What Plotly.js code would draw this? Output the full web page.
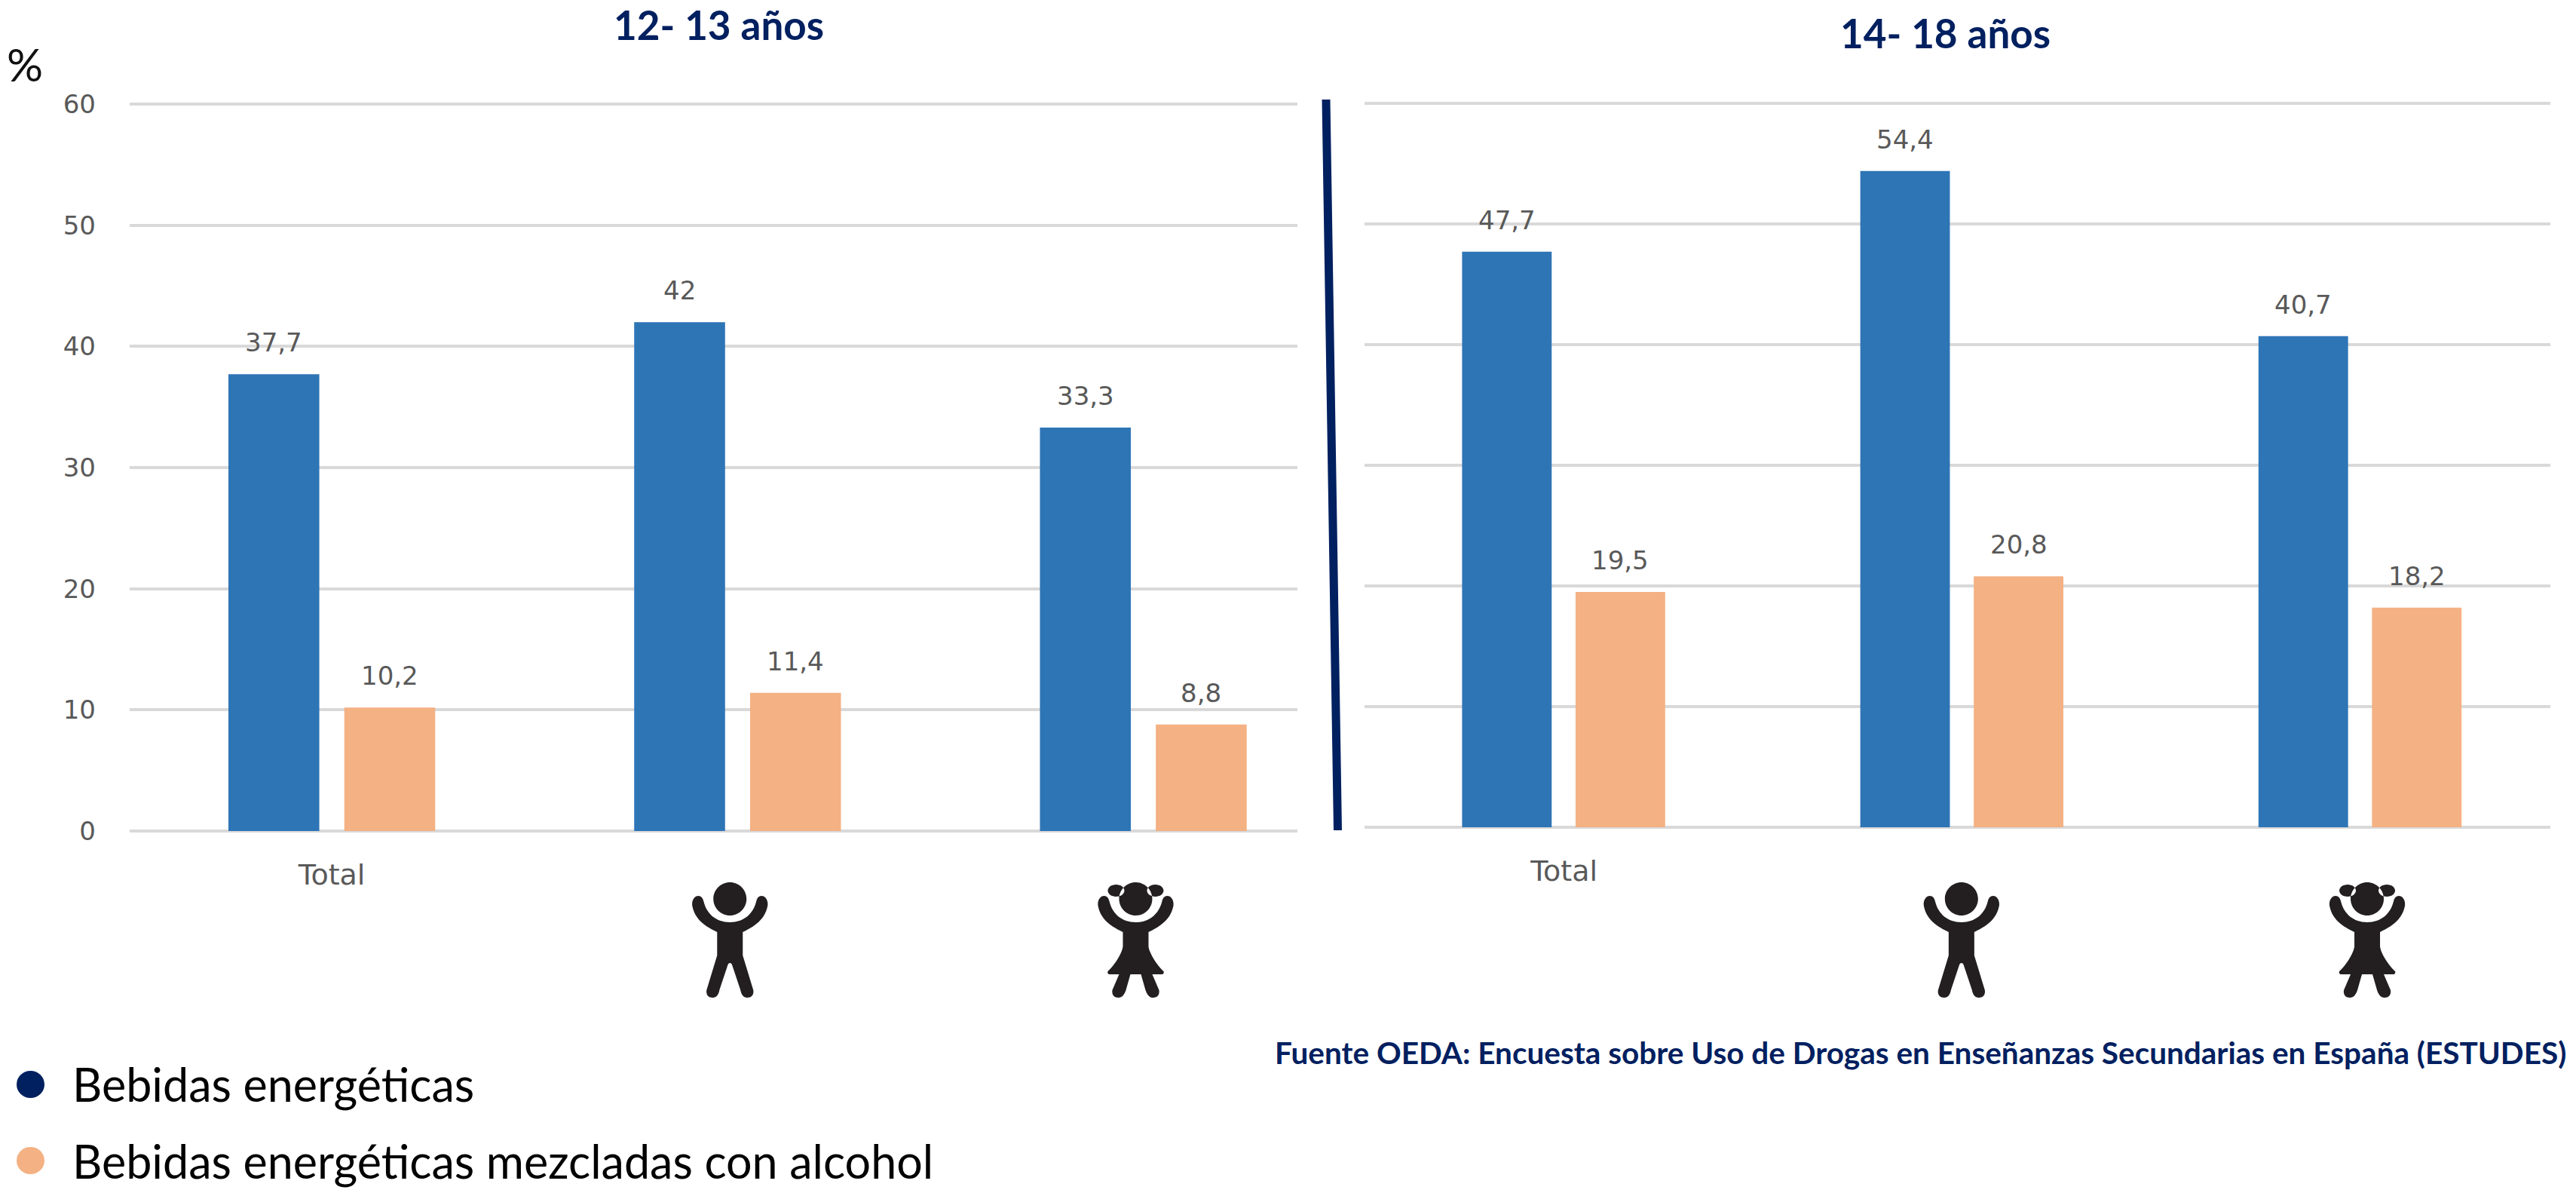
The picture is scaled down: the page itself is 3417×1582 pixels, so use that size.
<!DOCTYPE html>
<html><head><meta charset="utf-8">
<script src="https://cdn.plot.ly/plotly-3.0.1.min.js"></script>
<style>html,body{margin:0;padding:0;background:#fff}#c{width:3417px;height:1582px}</style>
</head><body><div id="c"></div>
<script>
const categories = ['Total', 'Chicos', 'Chicas'];
const tickLabels = ['Total', '', ''];
const energy1213 = [37.7, 42, 33.3];
const mixed1213 = [10.2, 11.4, 8.8];
const energy1418 = [47.7, 54.4, 40.7];
const mixed1418 = [19.5, 20.8, 18.2];
const panelTitles = ['12- 13 años', '14- 18 años'];
const seriesNames = ['Bebidas energéticas', 'Bebidas energéticas mezcladas con alcohol'];
const yTicks = [0, 10, 20, 30, 40, 50, 60];
const sourceNote = 'Fuente OEDA: Encuesta sobre Uso de Drogas en Enseñanzas Secundarias en España (ESTUDES)';

const W = 3417, H = 1582;
const BLUE = '#2E75B6', ORANGE = '#F4B183', NAVY = '#002060', GRID = '#D9D9D9', GREY = '#595959', ICON = '#231F20';
const px = v => v / W, py = v => 1 - v / H;
const LABEL_FONT = 'DejaVu Sans', HEAD_FONT = 'Lato, "Noto Sans", sans-serif';
const YMAX = 60.13; // a hair above 60 so that the top gridline is kept

const panels = [
  {x: 'x', y: 'y', dom: [172, 1721], top: 136, zero: 1102, range: [-0.498, 2.38], w: 0.224, blue: -0.2546, orange: 0.031,
   a: energy1213, b: mixed1213},
  {x: 'x2', y: 'y2', dom: [1810, 3383], top: 135, zero: 1097, range: [-0.501, 2.477], w: 0.225, blue: -0.256, orange: 0.029,
   a: energy1418, b: mixed1418}
];

const traces = [];
const annotations = [];
const fmt = v => String(v).replace('.', ',');
panels.forEach(p => {
  [[p.a, BLUE, p.blue, seriesNames[0]], [p.b, ORANGE, p.orange, seriesNames[1]]].forEach(([vals, col, off, name]) => {
    traces.push({type: 'bar', x: categories, y: vals, xaxis: p.x, yaxis: p.y, name, width: p.w, offset: off,
      marker: {color: col, line: {width: 0}}, showlegend: false, hoverinfo: 'x+y'});
    vals.forEach((v, i) => annotations.push({
      xref: p.x, yref: p.y, x: i + off + p.w / 2, y: v, text: fmt(v), showarrow: false,
      xanchor: 'center', yanchor: 'middle', yshift: 42,
      font: {family: LABEL_FONT, size: 34, color: GREY}
    }));
  });
});

function note(text, x, y, size, color, bold, anchor) {
  annotations.push({xref: 'paper', yref: 'paper', x: px(x), y: py(y), text: bold ? '<b>' + text + '</b>' : text,
    showarrow: false, xanchor: anchor || 'center', yanchor: 'middle',
    font: {family: HEAD_FONT, size, color}});
}
note(panelTitles[0], 953, 33, 53, NAVY, true);
note(panelTitles[1], 2580, 43, 53, NAVY, true);
note('%', 33, 85, 60, '#111111', false);
note(sourceNote, 1689, 1395, 40.5, NAVY, true, 'left');
note(seriesNames[0], 94, 1437, 61, '#000000', false, 'left');
note(seriesNames[1], 94, 1539, 61, '#000000', false, 'left');

const shapes = [];
// divider between the two panels
shapes.push({type: 'line', xref: 'paper', yref: 'paper', x0: px(1759), y0: py(132), x1: px(1774.5), y1: py(1101),
  line: {color: NAVY, width: 11}});
// legend dots
[[1438, NAVY], [1539, ORANGE]].forEach(([cy, col]) => shapes.push({type: 'circle', xref: 'paper', yref: 'paper',
  x0: px(22), x1: px(59), y0: py(cy - 18), y1: py(cy + 18), fillcolor: col, line: {width: 0}}));

// pictograms (pixel outlines: "dx dy", dy growing downward from the top of the head)
const ell = (cx, cy, rx, ry) => {
  const k = 0.5523;
  return `M ${cx - rx} ${cy} C ${cx - rx} ${cy - k * ry} ${cx - k * rx} ${cy - ry} ${cx} ${cy - ry} ` +
    `C ${cx + k * rx} ${cy - ry} ${cx + rx} ${cy - k * ry} ${cx + rx} ${cy} ` +
    `C ${cx + rx} ${cy + k * ry} ${cx + k * rx} ${cy + ry} ${cx} ${cy + ry} ` +
    `C ${cx - k * rx} ${cy + ry} ${cx - rx} ${cy + k * ry} ${cx - rx} ${cy} Z `;
};
const armsTop = 'M -42 18 C -47 18 -51 24 -50 31 C -47 46 -38 56 -17 66 ';
const armsEnd = 'C 38 56 47 46 50 31 C 51 24 47 18 42 18 C 38 18 36 21 35 25 C 31 42 18 53 0 53 C -18 53 -31 42 -35 25 C -36 21 -38 18 -42 18 Z ';
const boyPath = ell(0, 22, 22, 22) + armsTop +
  'L -17 97 L -31 143 C -32 150 -28 153 -23 153 C -18 153 -15 149 -14 143 L -3 110 C -2 106 2 106 3 110 ' +
  'L 14 143 C 15 149 18 153 23 153 C 28 153 32 150 31 143 L 17 97 L 17 66 ' + armsEnd;
const girlPath = ell(0, 22, 22, 22) + ell(-26, 11, 11, 8) + ell(26, 11, 11, 8) + armsTop +
  'L -17 85 C -18 95 -30 112 -37 118 C -38 121 -36 122 -34 122 L -22 122 L -31 143 C -32 150 -28 153 -23 153 C -18 153 -15 149 -13 143 L -7 122 ' +
  'L 7 122 L 13 143 C 15 149 18 153 23 153 C 28 153 32 150 31 143 L 22 122 L 34 122 C 36 122 38 121 37 118 C 30 112 18 95 17 85 L 17 66 ' + armsEnd;
const place = (path, dx) => path.replace(/(-?\d+(?:\.\d+)?) (-?\d+(?:\.\d+)?)/g, (m, a, b) => (+a + dx) + ' ' + (-b));
const iconTop = py(1170);
[['x', 1, boyPath, -10], ['x', 2, girlPath, -10], ['x2', 1, boyPath, -1], ['x2', 2, girlPath, 9]].forEach(([ax, idx, path, dx]) =>
  shapes.push({type: 'path', xref: ax, yref: 'paper', xsizemode: 'pixel', ysizemode: 'pixel', xanchor: idx, yanchor: iconTop,
    path: place(path, dx), fillcolor: ICON, line: {width: 0}}));

const xAxis = (p, standoff) => ({
  domain: [px(p.dom[0]), px(p.dom[1])], anchor: p.y, type: 'category', range: p.range, categoryorder: 'array', categoryarray: categories,
  tickmode: 'array', tickvals: categories, ticktext: tickLabels, ticks: '', showgrid: false, showline: false, zeroline: false,
  ticklabelstandoff: standoff, tickfont: {family: LABEL_FONT, size: 38, color: GREY}, fixedrange: true
});
const yAxis = (p, labels) => ({
  domain: [py(p.zero), py(p.top)], anchor: p.x, range: [0, YMAX], tickmode: 'array', tickvals: yTicks, showticklabels: labels,
  ticks: '', showline: false, showgrid: true, gridcolor: GRID, gridwidth: 4, zeroline: true, zerolinecolor: GRID, zerolinewidth: 4,
  ticklabelstandoff: 44, tickfont: {family: LABEL_FONT, size: 34, color: GREY}, fixedrange: true
});

const layout = {
  width: W, height: H, margin: {l: 0, r: 0, t: 0, b: 0}, paper_bgcolor: '#FFFFFF', plot_bgcolor: 'rgba(0,0,0,0)',
  showlegend: false, barmode: 'overlay',
  xaxis: xAxis(panels[0], 32), yaxis: yAxis(panels[0], true),
  xaxis2: xAxis(panels[1], 32), yaxis2: yAxis(panels[1], false),
  annotations, shapes
};
Plotly.newPlot('c', traces, layout, {displayModeBar: false, responsive: false});
</script></body></html>
